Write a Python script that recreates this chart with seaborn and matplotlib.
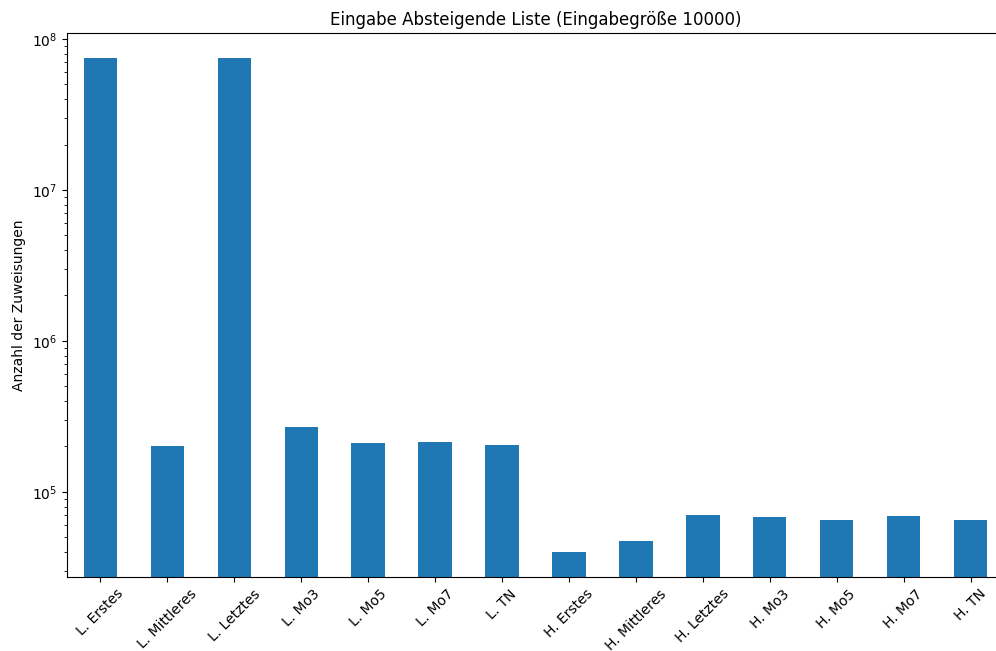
import numpy as np
import matplotlib
matplotlib.use('Agg')
import matplotlib.pyplot as plt
import seaborn as sns

# Values (log scale)
labels = ['L. Erstes', 'L. Mittleres', 'L. Letztes', 'L. Mo3', 'L. Mo5', 'L. Mo7', 'L. TN',
          'H. Erstes', 'H. Mittleres', 'H. Letztes', 'H. Mo3', 'H. Mo5', 'H. Mo7', 'H. TN']
zuweisungen = [7.5e7, 2.02e5, 7.5e7, 2.69e5, 2.11e5, 2.14e5, 2.05e5,
               4.01e4, 4.73e4, 7.05e4, 6.82e4, 6.53e4, 6.93e4, 6.53e4]

fig = plt.figure(figsize=(9.96, 6.51), dpi=100)
ax = fig.add_axes([67 / 996, 74 / 651, 937 / 996, 544 / 651])

sns.barplot(x=labels, y=zuweisungen, color='#1f77b4', saturation=1,
            width=0.5, ax=ax)
ax.set_yscale('log')
ax.set_ylim(2.73e4, 1.096e8)
ax.set_xlim(-0.5, len(labels) - 0.5)

ax.set_title('Eingabe Absteigende Liste (Eingabegröße 10000)', fontsize=12)
ax.set_ylabel('Anzahl der Zuweisungen')
ax.set_xlabel('')
plt.setp(ax.get_xticklabels(), rotation=45)
ax.tick_params(axis='both', labelsize=10)

fig.savefig('out.png', dpi=100)
